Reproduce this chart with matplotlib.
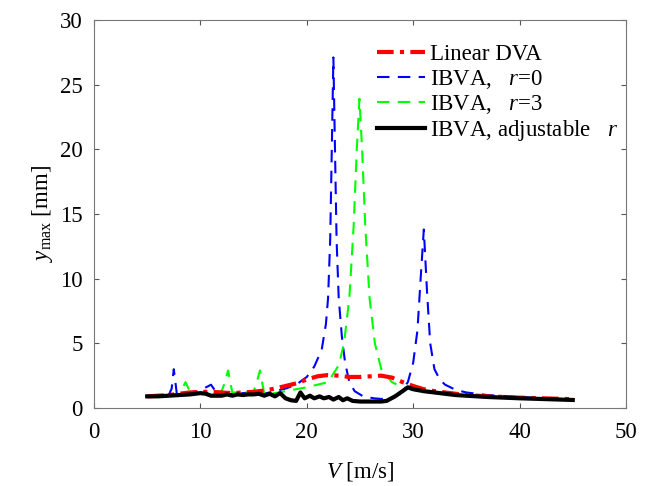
import matplotlib
matplotlib.use("Agg")
import matplotlib.pyplot as plt

# Linear DVA
V_lin = [5, 7, 8, 9, 10, 11, 12, 13, 14, 15, 16, 17, 18, 19, 20, 21, 22, 23, 24, 25,
         26, 27, 28, 29, 30, 31, 32, 33, 35, 37, 40, 45]
y_lin = [0.9, 1.0, 1.1, 1.2, 1.25, 1.25, 1.2, 1.15, 1.2, 1.25, 1.35, 1.5, 1.7, 1.9, 2.2,
         2.45, 2.55, 2.5, 2.4, 2.4, 2.45, 2.5, 2.35, 2.0, 1.7, 1.45, 1.3, 1.2, 1.0, 0.9, 0.8, 0.68]

# IBVA, r=0
V_r0 = [5, 7, 7.3, 7.5, 7.8, 8.5, 9.5, 10.3, 11, 11.5, 12, 13, 14, 15, 15.5, 16, 17, 18,
        19, 20, 20.7, 21.4, 21.8, 22.0, 22.2, 22.35, 22.5, 22.65, 22.8, 23.0, 23.3, 23.6,
        24, 24.5, 25.3, 26.3, 27, 28, 28.8, 29.5, 30, 30.4, 30.7, 31, 31.3, 31.6, 32, 32.5,
        33, 34, 35, 37, 40, 45]
y_r0 = [0.9, 0.95, 1.5, 3.0, 1.0, 1.1, 1.2, 1.5, 1.8, 1.2, 1.0, 1.1, 1.15, 1.2, 1.5, 1.1,
        1.3, 1.5, 1.8, 2.4, 3.2, 4.5, 6.5, 8.5, 13, 20, 27.1, 20, 13, 8.5, 5.5, 3.5,
        2.0, 1.3, 0.9, 0.75, 0.7, 0.8, 1.2, 2.0, 3.5, 6.0, 10, 13.8, 9, 5, 3, 2.2,
        1.8, 1.4, 1.2, 1.0, 0.85, 0.68]

# IBVA, r=3
V_r3 = [5, 7, 8, 8.3, 8.6, 9, 9.5, 10, 11, 12, 12.3, 12.6, 13, 14, 15, 15.3, 15.6, 16, 17,
        18, 19, 20, 21, 22, 23, 23.5, 24, 24.4, 24.7, 24.95, 25.2, 25.5, 25.9, 26.4, 27,
        28, 29, 30, 33, 37, 40, 45]
y_r3 = [0.9, 1.0, 1.05, 1.5, 2.0, 1.3, 1.1, 1.15, 1.2, 1.3, 2.0, 2.9, 1.2, 1.2, 1.25, 2.0,
        2.9, 1.1, 1.15, 1.3, 1.45, 1.6, 1.8, 2.0, 3.3, 5.0, 8.5, 14, 20, 23.9, 20, 14, 8.5,
        5.0, 3.0, 2.0, 1.6, 1.4, 1.1, 0.9, 0.8, 0.68]

# IBVA, adjustable r
V_adj = [5, 6, 7, 8, 9, 10, 10.5, 11, 12, 12.5, 13, 13.5, 14, 14.5, 15, 15.5, 16, 16.5,
         17, 17.5, 18, 18.5, 19, 19.4, 19.8, 20.3, 20.7, 21.2, 21.6, 22.1, 22.5, 23, 23.4,
         23.8, 24.3, 25, 26, 27, 27.5, 28.3, 29, 29.5, 30, 31, 32, 33, 34, 35, 37, 40, 45]
y_adj = [0.9, 0.9, 0.95, 1.0, 1.05, 1.15, 1.1, 0.95, 0.95, 1.05, 0.95, 1.05, 1.0, 1.05,
         1.05, 1.1, 0.95, 1.1, 0.9, 1.15, 0.75, 0.6, 0.55, 1.2, 0.75, 0.95, 0.75, 0.9, 0.75,
         0.85, 0.65, 0.85, 0.6, 0.75, 0.55, 0.5, 0.5, 0.5, 0.55, 0.9, 1.3, 1.6, 1.45, 1.3,
         1.2, 1.1, 1.0, 0.95, 0.85, 0.75, 0.62]

plt.rcParams['font.family'] = 'Liberation Serif'
plt.rcParams['mathtext.fontset'] = 'custom'
plt.rcParams['mathtext.rm'] = 'Liberation Serif'
plt.rcParams['mathtext.it'] = 'Liberation Serif:italic'

fig = plt.figure(figsize=(6.46, 4.86), dpi=100)
ax = fig.add_axes([0.1455, 0.1605, 0.8235, 0.7985])

ax.plot(V_r0, y_r0, color=(0, 0, 1), ls=(0, (6, 4)), lw=1.5, label=r'IBVA,   $\mathit{r}$=0')
ax.plot(V_r3, y_r3, color=(0, 1, 0), ls=(0, (6, 4)), lw=1.5, label=r'IBVA,   $\mathit{r}$=3')
ax.plot(V_lin, y_lin, color=(1, 0, 0), ls=(0, (4, 1.5, 1, 1.5)), lw=3, label='Linear DVA')
ax.plot(V_adj, y_adj, color='k', lw=3, label=r'IBVA, adjustable   $\mathit{r}$')

ax.set_xlim(0, 50)
ax.set_ylim(0, 30)
ax.set_xticks([0, 10, 20, 30, 40, 50])
ax.set_yticks([0, 5, 10, 15, 20, 25, 30])
ax.tick_params(direction='in', top=True, right=True, labelsize=16.5, color='#555555')
ax.tick_params(axis='x', pad=10)
ax.tick_params(axis='y', pad=8)
for s in ax.spines.values():
    s.set_color('#777777')

ax.set_xlabel(r'$\mathit{V}$ [m/s]', fontsize=16.5, labelpad=12)
ax.set_ylabel(r'$\mathit{y}_{\mathrm{max}}$ [mm]', fontsize=16.5)

h, l = ax.get_legend_handles_labels()
order = [2, 0, 1, 3]
ax.legend([h[i] for i in order], [l[i] for i in order], loc='upper right',
          bbox_to_anchor=(1.025, 0.99), frameon=False, fontsize=16.5, handlelength=2.1,
          handletextpad=0.25, labelspacing=0.1)

fig.savefig('out.png', dpi=100)
